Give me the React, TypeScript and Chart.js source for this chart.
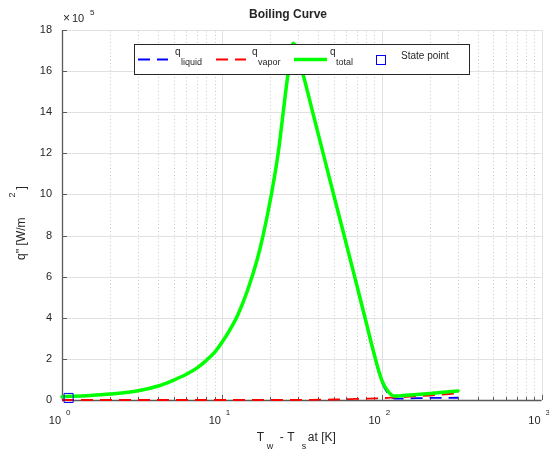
import React, { useEffect, useRef } from "react";
import { Chart, registerables } from "chart.js";

Chart.register(...registerables);

const FONT = "'Liberation Sans', Arial, Helvetica, sans-serif";
const TEXT = "#262626";

// Wall superheat T_w - T_sat [K]
const deltaT = [1, 1.5, 2, 3, 4, 5, 6, 7, 8, 9, 10, 11.2, 12.6, 14.5, 16.6, 18.1, 20.4, 22.5, 24.2, 25.9, 27.9, 32.2, 37, 43, 50, 58.2, 67.7, 78.6, 91.7, 100, 110, 120, 130, 150, 200, 300];
// heat flux in units of 1e5 W/m^2
const qTotal = [0.16, 0.22, 0.29, 0.45, 0.68, 0.97, 1.25, 1.56, 1.93, 2.32, 2.8, 3.4, 4.15, 5.35, 6.81, 8, 10, 12, 14, 15.84, 17.35, 15.84, 14, 12, 10, 8, 6, 4, 1.95, 0.97, 0.4, 0.19, 0.2, 0.24, 0.32, 0.44];
const qLiquid = [0.16, 0.22, 0.29, 0.45, 0.68, 0.97, 1.25, 1.56, 1.93, 2.32, 2.8, 3.4, 4.15, 5.35, 6.81, 8, 10, 12, 14, 15.84, 17.35, 15.83, 13.99, 11.98, 9.975, 7.965, 5.95, 3.935, 1.87, 0.88, 0.295, 0.07, 0.07, 0.08, 0.1, 0.11];
const qVapor = [0, 0, 0, 0, 0, 0, 0, 0, 0, 0, 0, 0, 0, 0, 0, 0, 0, 0, 0, 0, 0, 0.01, 0.01, 0.02, 0.025, 0.035, 0.05, 0.065, 0.08, 0.09, 0.105, 0.12, 0.13, 0.16, 0.22, 0.33];
const statePointX = [1.1];
const statePointQ = [0.1];

const yTicks = [0, 2, 4, 6, 8, 10, 12, 14, 16, 18];
const xDecades = [1, 10, 100, 1000];
const xDecadeExponents = ["0", "1", "2", "3"];
const minorMultipliers = [2, 3, 4, 5, 6, 7, 8, 9];

const COLORS = { liquid: "#0000ff", vapor: "#ff0000", total: "#00ff00", state: "#0000ff" };
const DASH = [12, 7];

const decorPlugin = {
  id: "decor",
  beforeDatasetsDraw(chart: any) {
    const ctx = chart.ctx as CanvasRenderingContext2D;
    const xs = chart.scales.x;
    const ys = chart.scales.y;
    const { left, right, top, bottom } = chart.chartArea;
    const r = (v: number) => Math.round(v) + 0.5;
    ctx.save();
    // minor dotted x grid
    ctx.strokeStyle = "#c9c9c9";
    ctx.lineWidth = 1;
    ctx.setLineDash([1, 2.5]);
    for (let d = 0; d < xDecades.length - 1; d++) {
      for (const m of minorMultipliers) {
        const px = r(xs.getPixelForValue(xDecades[d] * m));
        ctx.beginPath();
        ctx.moveTo(px, bottom);
        ctx.lineTo(px, top);
        ctx.stroke();
      }
    }
    ctx.setLineDash([]);
    // major grid
    ctx.strokeStyle = "#e0e0e0";
    for (const v of xDecades.slice(1)) {
      const px = r(xs.getPixelForValue(v));
      ctx.beginPath();
      ctx.moveTo(px, bottom);
      ctx.lineTo(px, top);
      ctx.stroke();
    }
    for (const v of yTicks.slice(1)) {
      const py = r(ys.getPixelForValue(v));
      ctx.beginPath();
      ctx.moveTo(left, py);
      ctx.lineTo(right, py);
      ctx.stroke();
    }
    // axes
    ctx.strokeStyle = "#5a5a5a";
    ctx.lineWidth = 1.3;
    ctx.beginPath();
    ctx.moveTo(r(left), top);
    ctx.lineTo(r(left), bottom);
    ctx.moveTo(left, r(bottom));
    ctx.lineTo(right, r(bottom));
    ctx.stroke();
    ctx.lineWidth = 1;
    // y ticks
    for (const v of yTicks) {
      const py = r(ys.getPixelForValue(v));
      ctx.beginPath();
      ctx.moveTo(left, py);
      ctx.lineTo(left + 5, py);
      ctx.stroke();
    }
    // x ticks
    for (const v of xDecades) {
      const px = r(xs.getPixelForValue(v));
      ctx.beginPath();
      ctx.moveTo(px, bottom);
      ctx.lineTo(px, bottom - 5);
      ctx.stroke();
    }
    for (let d = 0; d < xDecades.length - 1; d++) {
      for (const m of minorMultipliers) {
        const px = r(xs.getPixelForValue(xDecades[d] * m));
        ctx.beginPath();
        ctx.moveTo(px, bottom);
        ctx.lineTo(px, bottom - 3);
        ctx.stroke();
      }
    }
    ctx.restore();
  },
  afterDatasetsDraw(chart: any) {
    const ctx = chart.ctx as CanvasRenderingContext2D;
    const xs = chart.scales.x;
    const ys = chart.scales.y;
    const { left, right, top, bottom } = chart.chartArea;
    ctx.save();
    ctx.fillStyle = TEXT;
    // y tick labels
    ctx.font = `11px ${FONT}`;
    ctx.textAlign = "right";
    ctx.textBaseline = "middle";
    for (const v of yTicks) {
      ctx.fillText(String(v), left - 10, ys.getPixelForValue(v));
    }
    // x tick labels 10^n
    xDecades.forEach((v, i) => {
      const px = xs.getPixelForValue(v);
      ctx.font = `11px ${FONT}`;
      ctx.textAlign = "right";
      ctx.fillText("10", px - 1, bottom + 21);
      ctx.font = `8px ${FONT}`;
      ctx.textAlign = "left";
      ctx.fillText(xDecadeExponents[i], px + 4, bottom + 13);
    });
    // exponent multiplier
    ctx.textAlign = "left";
    ctx.font = `12px ${FONT}`;
    ctx.fillText("\u00d7", left + 1, top - 11);
    ctx.font = `11px ${FONT}`;
    ctx.fillText("10", left + 10, top - 11);
    ctx.font = `8px ${FONT}`;
    ctx.fillText("5", left + 28, top - 17);
    // title
    ctx.font = `bold 12px ${FONT}`;
    ctx.textAlign = "center";
    ctx.fillText("Boiling Curve", 288, 15);
    // x title
    ctx.textAlign = "left";
    const cx = (left + right) / 2;
    ctx.font = `12px ${FONT}`;
    ctx.fillText("T", cx - 45, bottom + 38);
    ctx.fillText("- T", cx - 22, bottom + 38);
    ctx.fillText("at [K]", cx + 6, bottom + 38);
    ctx.font = `9px ${FONT}`;
    ctx.fillText("w", cx - 35, bottom + 47);
    ctx.fillText("s", cx, bottom + 47);
    // y title (rotated)
    ctx.save();
    ctx.translate(22, 260);
    ctx.rotate(-Math.PI / 2);
    ctx.font = `12px ${FONT}`;
    ctx.fillText("q'' [W/m", 0, 0);
    const w1 = ctx.measureText("q'' [W/m").width;
    ctx.font = `9px ${FONT}`;
    ctx.fillText("2", w1 + 20, -9);
    ctx.font = `12px ${FONT}`;
    ctx.fillText("]", w1 + 28, 0);
    ctx.restore();

    // legend
    const lx = 134, ly = 44, lw = 335, lh = 30;
    ctx.fillStyle = "#ffffff";
    ctx.fillRect(lx, ly, lw, lh);
    ctx.strokeStyle = "#262626";
    ctx.lineWidth = 1;
    ctx.strokeRect(lx + 0.5, ly + 0.5, lw, lh);
    const sy = 59.5;
    const sample = (x0: number, x1: number, color: string, width: number, dash: number[]) => {
      ctx.save();
      ctx.strokeStyle = color;
      ctx.lineWidth = width;
      ctx.setLineDash(dash);
      ctx.beginPath();
      ctx.moveTo(x0, sy);
      ctx.lineTo(x1, sy);
      ctx.stroke();
      ctx.restore();
    };
    sample(138, 168, COLORS.liquid, 1.8, DASH);
    sample(216, 246, COLORS.vapor, 1.8, DASH);
    sample(294, 327, COLORS.total, 3.5, []);
    ctx.strokeStyle = COLORS.state;
    ctx.strokeRect(376.5, 55.5, 9, 9);
    ctx.fillStyle = TEXT;
    ctx.textAlign = "left";
    ctx.textBaseline = "middle";
    const entry = (x: number, sub: string) => {
      ctx.font = `10px ${FONT}`;
      ctx.fillText("q", x, 52);
      ctx.font = `9px ${FONT}`;
      ctx.fillText(sub, x + 6, 63);
    };
    entry(175, "liquid");
    entry(252, "vapor");
    entry(330, "total");
    ctx.font = `10px ${FONT}`;
    ctx.fillText("State point", 401, 56);
    ctx.restore();
  },
};

export default function App() {
  const ref = useRef<HTMLCanvasElement | null>(null);
  useEffect(() => {
    document.body.style.margin = "0";
    const canvas = ref.current;
    if (!canvas) return;
    const pts = (ys: number[]) => deltaT.map((x, i) => ({ x, y: ys[i] }));
    const chart = new Chart(canvas, {
      type: "line",
      data: {
        datasets: [
          {
            label: "State point",
            type: "scatter",
            data: statePointX.map((x, i) => ({ x, y: statePointQ[i] })),
            pointStyle: "rect",
            pointRadius: 6.4,
            borderColor: COLORS.state,
            backgroundColor: "rgba(0,0,0,0)",
            borderWidth: 1,
            order: 0,
            clip: false,
          } as any,
          {
            label: "q_total",
            data: pts(qTotal),
            borderColor: COLORS.total,
            borderWidth: 3.5,
            borderJoinStyle: "round",
            borderCapStyle: "round",
            pointRadius: 0,
            cubicInterpolationMode: "monotone",
            order: 1,
            clip: false,
          },
          {
            label: "q_vapor",
            data: pts(qVapor),
            borderColor: COLORS.vapor,
            borderWidth: 1.8,
            borderDash: DASH,
            pointRadius: 0,
            cubicInterpolationMode: "monotone",
            order: 2,
            clip: false,
          },
          {
            label: "q_liquid",
            data: pts(qLiquid),
            borderColor: COLORS.liquid,
            borderWidth: 1.8,
            borderDash: DASH,
            pointRadius: 0,
            cubicInterpolationMode: "monotone",
            order: 3,
            clip: false,
          },
        ],
      },
      options: {
        animation: false,
        responsive: false,
        devicePixelRatio: 1,
        events: [],
        layout: { padding: { left: 62, right: 7, top: 30, bottom: 50 } },
        plugins: {
          legend: { display: false },
          tooltip: { enabled: false },
          title: { display: false },
        },
        scales: {
          x: { type: "logarithmic", min: 1, max: 1000, display: false },
          y: { type: "linear", min: 0, max: 18, display: false },
        },
      },
      plugins: [decorPlugin],
    });
    return () => chart.destroy();
  }, []);
  return (
    <div style={{ width: 549, height: 450 }}>
      <canvas ref={ref} width={549} height={450} style={{ display: "block" }} />
    </div>
  );
}
